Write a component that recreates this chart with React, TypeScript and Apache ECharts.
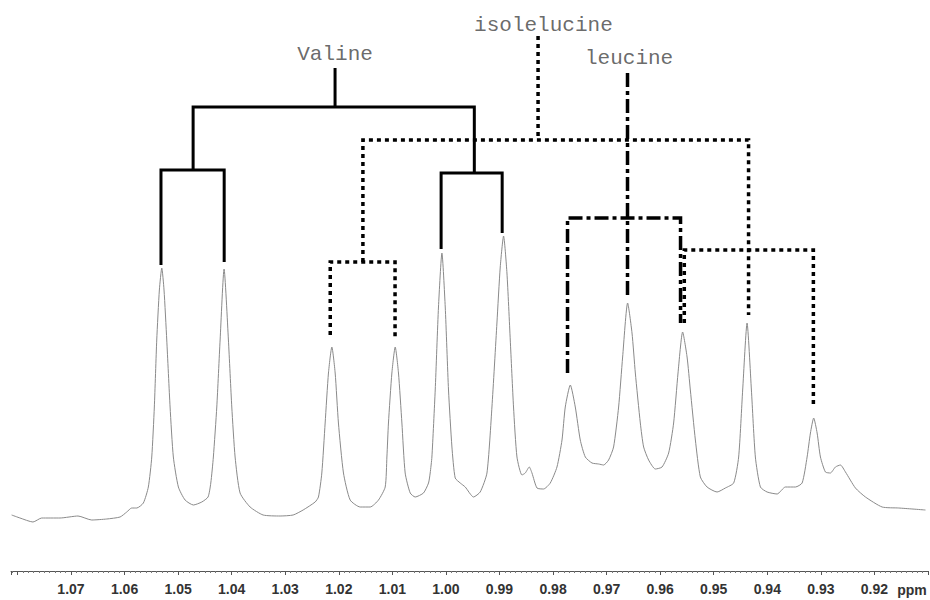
import React, { useEffect, useRef } from "react";
import * as echarts from "echarts";

// Spectrum trace (chemical shift in ppm, intensity in arbitrary units)
const spectrumPpm = [
  1.08108, 1.07952, 1.0771, 1.07547, 1.07205, 1.06869, 1.06613, 1.06333, 1.06084, 1.05959,
  1.05866, 1.05772, 1.05649, 1.05556, 1.05492, 1.05444, 1.05399, 1.0535, 1.05305, 1.05263,
  1.05212, 1.0515, 1.05089, 1.04995, 1.0487, 1.04715, 1.04558, 1.04441, 1.0439, 1.04342,
  1.04278, 1.04216, 1.04142, 1.04061, 1.03998, 1.03936, 1.03843, 1.03656, 1.03413, 1.03096,
  1.02853, 1.02666, 1.02442, 1.0238, 1.02317, 1.02255, 1.02193, 1.0213, 1.02068, 1.02007,
  1.01913, 1.01788, 1.01601, 1.01414, 1.01259, 1.01134, 1.01102, 1.01073, 1.01009, 1.00947,
  1.00886, 1.00822, 1.00761, 1.00667, 1.00574, 1.00419, 1.00325, 1.00294, 1.00262, 1.002,
  1.00139, 1.00075, 1.00013, 0.99952, 0.99888, 0.99827, 0.99733, 0.9964, 0.99485, 0.9936,
  0.99234, 0.99141, 0.99048, 0.98986, 0.98924, 0.98861, 0.98799, 0.98738, 0.98674, 0.98581,
  0.98519, 0.98444, 0.98394, 0.983, 0.98177, 0.98052, 0.97927, 0.97833, 0.97772, 0.97678,
  0.97585, 0.97492, 0.97398, 0.97273, 0.9715, 0.97056, 0.96963, 0.9687, 0.96776, 0.96701,
  0.96608, 0.96526, 0.96464, 0.96371, 0.96309, 0.96216, 0.96091, 0.95965, 0.95842, 0.95749,
  0.95667, 0.95581, 0.95498, 0.95437, 0.95343, 0.9525, 0.95125, 0.94938, 0.94783, 0.94628,
  0.94535, 0.9446, 0.94378, 0.94297, 0.94223, 0.94129, 0.94004, 0.93817, 0.93662, 0.93475,
  0.9335, 0.93257, 0.93195, 0.93134, 0.9307, 0.93008, 0.92915, 0.92822, 0.92728, 0.92635,
  0.92541, 0.92355, 0.92168, 0.91856, 0.91546, 0.91047,
];
const spectrumIntensity = [
  15, 12, 8, 12, 12, 14, 10, 11, 13, 18,
  22, 22, 27, 43, 73, 123, 190, 240, 262, 240,
  190, 123, 73, 43, 30, 25, 28, 33, 47, 73,
  123, 190, 261, 190, 123, 73, 37, 23, 15, 14,
  15, 20, 28, 33, 57, 107, 157, 183, 157, 107,
  57, 30, 23, 23, 30, 43, 73, 107, 157, 183,
  157, 107, 57, 37, 33, 37, 47, 57, 73, 140,
  223, 277, 223, 140, 83, 52, 47, 43, 33, 38,
  57, 123, 207, 263, 294, 257, 190, 123, 73, 55,
  57, 63, 57, 42, 41, 47, 63, 90, 123, 145,
  123, 90, 73, 67, 66, 65, 70, 83, 123, 173,
  227, 197, 157, 107, 83, 70, 61, 63, 77, 107,
  157, 198, 173, 140, 90, 53, 43, 38, 42, 47,
  73, 140, 207, 140, 73, 43, 38, 36, 43, 43,
  47, 73, 97, 112, 97, 73, 58, 57, 63, 65,
  58, 42, 33, 23, 22, 20,
];

// Splitting trees: polylines of [ppm, height]
const valineTree = [
  [[1.0207, 462], [1.0207, 423]],
  [[1.0472, 360], [1.0472, 423], [0.9947, 423], [0.9947, 357]],
  [[1.0532, 265], [1.0532, 360], [1.0414, 360], [1.0414, 268]],
  [[1.0009, 281], [1.0009, 357], [0.9895, 357], [0.9895, 297]],
];
const isoleucineTree = [
  [[0.9828, 494], [0.9828, 390]],
  [[1.0155, 268], [1.0155, 390], [0.9435, 390], [0.9435, 215]],
  [[1.0216, 195], [1.0216, 268], [1.0095, 268], [1.0095, 192]],
  [[0.9555, 207], [0.9555, 280], [0.9314, 280], [0.9314, 123]],
];
const leucineTree = [
  [[0.9661, 457], [0.9661, 235]],
  [[0.9773, 157], [0.9773, 312], [0.9562, 312], [0.9562, 207]],
];

const labelNames = ["Valine", "isolelucine", "leucine"];
const labelPpm = [1.0207, 0.9818, 0.9658];
const labelHeight = [476, 505, 472];

// Axis range and labelled tick span
const X_MIN = 0.91;
const X_MAX = 1.0812;
const LABEL_FIRST = 0.92;
const LABEL_LAST = 1.07;

export default function App() {
  const ref = useRef<HTMLDivElement>(null);

  useEffect(() => {
    document.body.style.margin = "0";
    if (!ref.current) return;
    const chart = echarts.init(ref.current, null, { renderer: "svg" });

    const treeSeries = (
      trees: number[][][],
      width: number,
      type: any,
      name: string
    ) =>
      trees.map((pts, i) => ({
        name: name + i,
        type: "line",
        data: pts,
        symbol: "none",
        silent: true,
        z: 3,
        lineStyle: { color: "#000", width, type, cap: "butt", join: "miter" },
      }));

    const spectrum = spectrumPpm.map((p, i) => [p, spectrumIntensity[i]]);

    chart.setOption({
      animation: false,
      backgroundColor: "#fff",
      grid: { left: 11, right: 2, top: 0, bottom: 70, containLabel: false },
      xAxis: {
        type: "value",
        min: X_MIN,
        max: X_MAX,
        interval: 0.01,
        inverse: true,
        offset: 41,
        axisLine: { show: true, onZero: false, lineStyle: { color: "#555", width: 1 } },
        axisTick: { show: true, length: 4, lineStyle: { color: "#555" } },
        minorTick: { show: true, splitNumber: 10, length: 2, lineStyle: { color: "#777" } },
        splitLine: { show: false },
        axisLabel: {
          showMinLabel: false,
          showMaxLabel: false,
          margin: 11,
          fontSize: 14,
          fontWeight: "bold",
          color: "#333",
          fontFamily: "Arial, 'Liberation Sans', sans-serif",
          formatter: (v: number) =>
            v < LABEL_FIRST - 0.005 || v > LABEL_LAST + 0.005 ? "" : v.toFixed(2),
        },
      },
      yAxis: {
        type: "value",
        min: 0,
        max: 530,
        show: false,
      },
      graphic: [
        {
          type: "text",
          x: 912,
          y: 590,
          style: {
            text: "ppm",
            fontSize: 14,
            fontWeight: "bold",
            fill: "#333",
            fontFamily: "Arial, 'Liberation Sans', sans-serif",
            align: "center",
            verticalAlign: "middle",
          },
        },
      ],
      series: [
        {
          name: "spectrum",
          type: "line",
          data: spectrum,
          symbol: "none",
          smooth: 0.2,
          silent: true,
          lineStyle: { color: "#8a8a8a", width: 1 },
          z: 2,
        },
        ...treeSeries(valineTree, 3, "solid", "valine"),
        ...treeSeries(isoleucineTree, 3.5, [4, 4], "iso"),
        ...treeSeries(leucineTree, 3.5, [14, 4, 4, 4], "leu"),
        {
          name: "labels",
          type: "scatter",
          symbolSize: 0,
          silent: true,
          data: labelNames.map((n, i) => ({ name: n, value: [labelPpm[i], labelHeight[i]] })),
          label: {
            show: true,
            position: "inside",
            formatter: "{b}",
            fontSize: 21,
            color: "#444",
            fontFamily: "'Courier New', 'Liberation Mono', monospace",
          },
          z: 4,
        },
      ],
    });

    return () => chart.dispose();
  }, []);

  return (
    <div
      ref={ref}
      style={{ position: "absolute", left: 0, top: 0, width: 930, height: 600 }}
    />
  );
}
